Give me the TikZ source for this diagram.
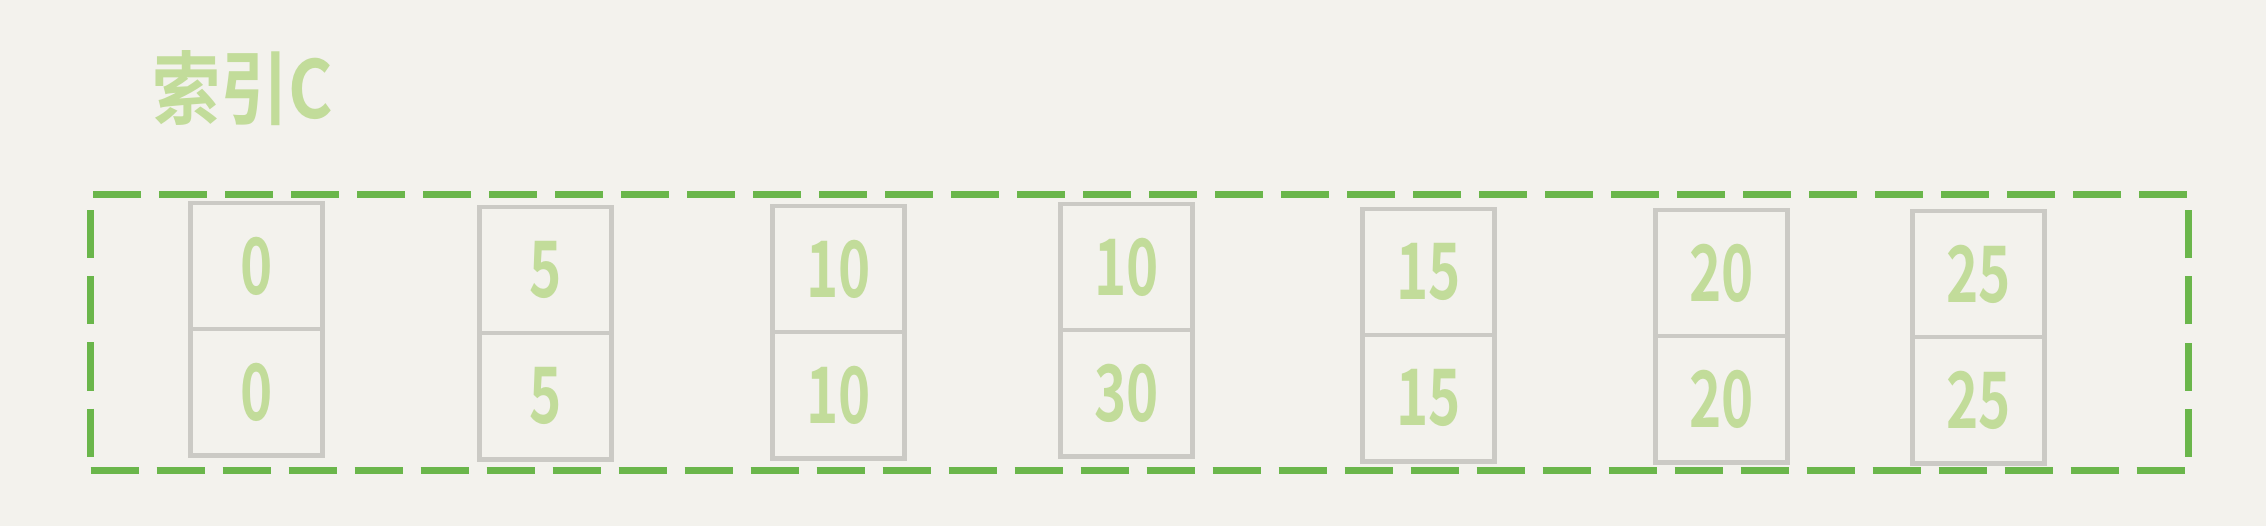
\documentclass[tikz,border=0pt]{standalone}
\usepackage{fontspec}
\setmainfont{Noto Sans CJK SC}
\newfontfamily\cjk{Noto Sans CJK SC}[BoldFont={Noto Sans CJK SC Bold}]
\usetikzlibrary{positioning}
\definecolor{bgc}{HTML}{F3F2ED}
\definecolor{dashgreen}{HTML}{6AB64B}
\definecolor{boxgray}{HTML}{CBCAC5}
\definecolor{txtgreen}{HTML}{C2DC9A}
\tikzset{
  cell/.style={draw=boxgray, line width=4.5pt, minimum width=132pt, minimum height=126pt,
    inner sep=0pt, anchor=north west, text=txtgreen,
    font=\cjk\bfseries\fontsize{78}{78}\selectfont},
  groupbox/.style={draw=dashgreen, line width=7pt, dash pattern=on 48pt off 18pt,
    inner sep=0pt, anchor=north west},
  titletext/.style={text=txtgreen, font=\cjk\bfseries\fontsize{80}{80}\selectfont, inner sep=0pt},
}
\newcommand{\dg}[1]{\scalebox{0.7}[1]{#1}}
\begin{document}
\begin{tikzpicture}[x=1pt,y=-1pt]
\fill[bgc] (0,0) rectangle (2266,526);
\useasboundingbox (0,0) rectangle (2266,526);
\node[titletext] (title) at (243,88) {\scalebox{0.85}[1]{索引C}};
\node[groupbox, minimum width=2098pt, minimum height=276pt] (grp) at (87,191) {};
% column 1
\node[cell] (a1) at (188,201) {\dg{0}};
\node[cell] (b1) at (188,327) {\dg{0}};
% column 2
\node[cell] (a2) at (477,205) {\dg{5}};
\node[cell] (b2) at (477,331) {\dg{5}};
% column 3
\node[cell] (a3) at (770,204) {\dg{10}};
\node[cell] (b3) at (770,330) {\dg{10}};
% column 4
\node[cell] (a4) at (1058,202) {\dg{10}};
\node[cell] (b4) at (1058,328) {\dg{30}};
% column 5
\node[cell] (a5) at (1360,207) {\dg{15}};
\node[cell] (b5) at (1360,333) {\dg{15}};
% column 6
\node[cell] (a6) at (1653,208) {\dg{20}};
\node[cell] (b6) at (1653,334) {\dg{20}};
% column 7
\node[cell] (a7) at (1910,209) {\dg{25}};
\node[cell] (b7) at (1910,335) {\dg{25}};
\end{tikzpicture}
\end{document}
